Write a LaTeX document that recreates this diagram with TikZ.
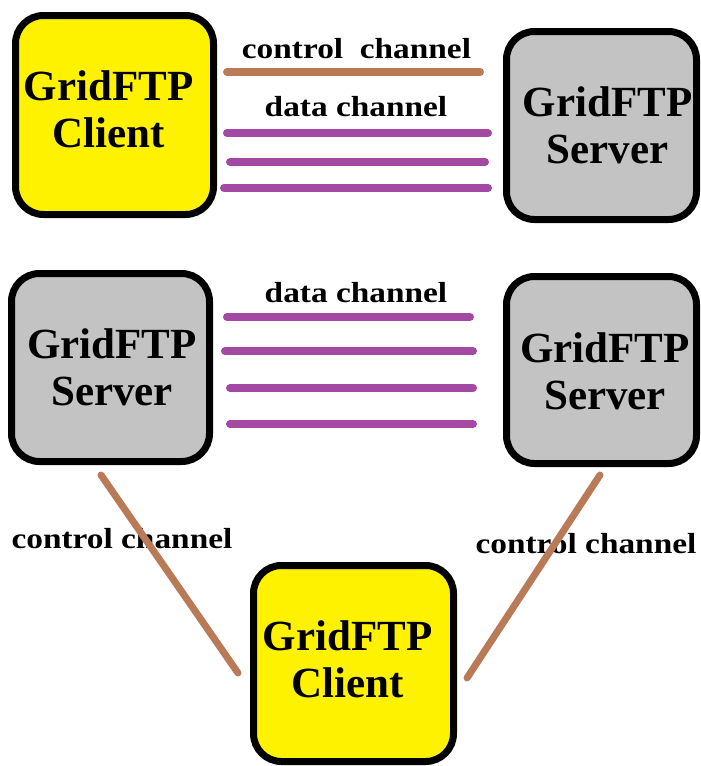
\documentclass[tikz,border=0pt]{standalone}
\usepackage{fontspec}
\setmainfont{Liberation Serif}
\newfontfamily\chanfont{Liberation Serif}[FakeStretch=1.15]
\definecolor{pyellow}{RGB}{255,242,0}
\definecolor{pgray}{RGB}{195,195,195}
\definecolor{pbrown}{RGB}{185,122,87}
\definecolor{ppurple}{RGB}{163,73,164}
\tikzset{
  box/.style={draw=black, line width=7pt, rounded corners=28pt, inner sep=0pt, outer sep=0pt},
  clientbox/.style={box, fill=pyellow},
  serverbox/.style={box, fill=pgray},
  boxtext/.style={inner sep=0pt, align=center, font=\fontsize{43}{47}\selectfont\bfseries},
  chanlabel/.style={inner sep=0pt, anchor=base, font=\chanfont\fontsize{29}{34}\selectfont\bfseries},
  ctrl/.style={draw=pbrown, line width=8pt, line cap=round},
  ctrldiag/.style={draw=pbrown, line width=7pt, line cap=round},
  data/.style={draw=ppurple, line width=8pt, line cap=round}
}
\begin{document}
\begin{tikzpicture}[x=1pt, y=-1pt]
\useasboundingbox (0,0) rectangle (701,766);
% boxes
\node[clientbox, minimum width=198pt, minimum height=199pt,
  label={[boxtext, shift={(-6,-5.5)}]center:GridFTP\\Client}] (c1) at (114.5,115) {};
\node[serverbox, minimum width=190pt, minimum height=188pt,
  label={[boxtext, shift={(6,0)}]center:GridFTP\\Server}] (s1) at (601.5,125.5) {};
\node[serverbox, minimum width=198pt, minimum height=188pt,
  label={[boxtext, shift={(1.5,0)}]center:GridFTP\\Server}] (s2) at (110.5,367.5) {};
\node[serverbox, minimum width=190pt, minimum height=187pt,
  label={[boxtext, shift={(3.5,1)}]center:GridFTP\\Server}] (s3) at (601.5,370) {};
\node[clientbox, minimum width=200pt, minimum height=196pt,
  label={[boxtext, shift={(-6,-4)}]center:GridFTP\\Client}] (c2) at (353.5,663.5) {};
% channel end points
\coordinate (tc1) at (227,72);  \coordinate (tc2) at (480,72);
\coordinate (ta1) at (227,133); \coordinate (ta2) at (488,133);
\coordinate (tb1) at (230,162); \coordinate (tb2) at (485,162);
\coordinate (td1) at (224,188); \coordinate (td2) at (488,188);
\coordinate (ma1) at (227,317); \coordinate (ma2) at (470,317);
\coordinate (mb1) at (225,351); \coordinate (mb2) at (473,351);
\coordinate (mc1) at (230,388); \coordinate (mc2) at (473,388);
\coordinate (md1) at (230,424); \coordinate (md2) at (473,424);
\coordinate (dl1) at (101,475); \coordinate (dl2) at (238,673);
\coordinate (dr1) at (600,475); \coordinate (dr2) at (467,678);
% labels
\node[chanlabel] (ltc) at (356.5,58) {control~ channel};
\node[chanlabel] (ltd) at (356,116) {data channel};
\node[chanlabel] (lmd) at (356,302) {data channel};
\node[chanlabel] (lbl) at (122,548) {control channel};
\node[chanlabel] (lbr) at (586,553) {control channel};
% channels
\draw[ctrl] (tc1) -- (tc2);
\draw[data] (ta1) -- (ta2);
\draw[data] (tb1) -- (tb2);
\draw[data] (td1) -- (td2);
\draw[data] (ma1) -- (ma2);
\draw[data] (mb1) -- (mb2);
\draw[data] (mc1) -- (mc2);
\draw[data] (md1) -- (md2);
\draw[ctrldiag] (dl1) -- (dl2);
\draw[ctrldiag] (dr1) -- (dr2);
\end{tikzpicture}
\end{document}
